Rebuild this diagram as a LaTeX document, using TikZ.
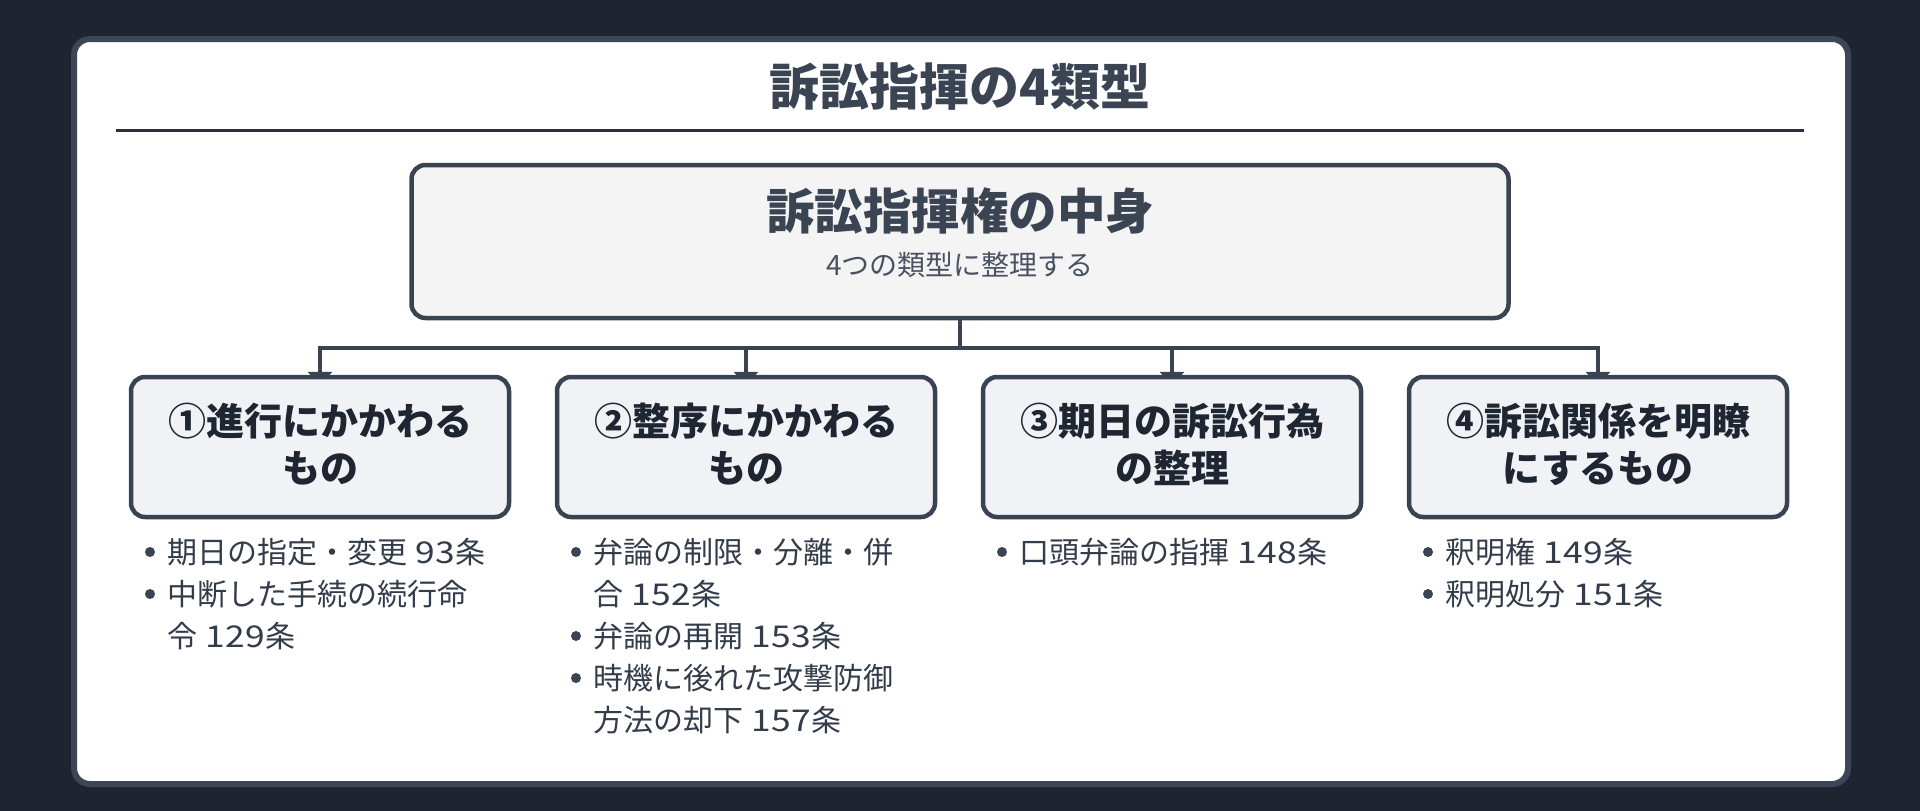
\documentclass[tikz,border=0pt]{standalone}
\usepackage{fontspec}
\setmainfont{Noto Sans CJK JP}
\usetikzlibrary{arrows.meta}
\pgfdeclarelayer{background}
\pgfsetlayers{background,main}
\definecolor{bgc}{HTML}{1F2530}
\definecolor{cardc}{HTML}{3C4657}
\definecolor{rulec}{HTML}{2B313C}
\definecolor{boxc}{HTML}{394352}
\definecolor{topfill}{HTML}{F4F4F5}
\definecolor{catfill}{HTML}{F0F2F6}
\definecolor{titlec}{HTML}{3A4452}
\definecolor{headc}{HTML}{1F2631}
\definecolor{itemc}{HTML}{333C4A}
\definecolor{subc}{HTML}{4A5261}
\newcommand{\artno}[1]{\ \hspace{0.06em}{\addfontfeatures{FakeStretch=1.18}#1}\hspace{0.03em}}
\begin{document}
\begin{tikzpicture}[x=1pt,y=-1pt,
  topbox/.style={draw=boxc, line width=4.5pt, rounded corners=14pt, fill=topfill,
    minimum width=1097pt, minimum height=153pt, inner sep=0pt},
  catbox/.style={draw=boxc, line width=4.5pt, rounded corners=14pt, fill=catfill,
    minimum width=378pt, minimum height=140pt, inner sep=0pt},
  cattext/.style={font=\bfseries\fontsize{38}{47}\selectfont, text=headc, align=center, inner sep=0pt},
  item/.style={font=\fontsize{30}{42}\selectfont, text=itemc, anchor=base west, inner sep=0pt},
  dot/.style={circle, fill=titlec, minimum size=10pt, inner sep=0pt},
  conn/.style={draw=boxc, line width=4.5pt, -{Triangle[width=24pt,length=14pt]}}
]
\useasboundingbox (0,0) rectangle (1920,811);
\begin{pgfonlayer}{background}
  \fill[bgc] (0,0) rectangle (1920,811);
  \draw[cardc, line width=6pt, fill=white, rounded corners=16pt] (74,39) rectangle (1848,784);
\end{pgfonlayer}

% title
\node[font=\bfseries\fontsize{50}{60}\selectfont, text=titlec, inner sep=0pt] (title) at (960,87) {訴訟指揮の4類型};
\coordinate (ruleL) at (116,130);
\coordinate (ruleR) at (1804,130);
\draw[rulec, line width=3pt] (ruleL) -- (ruleR);

% top box
\node[topbox] (top) at (960,241.5) {};
\node[font=\bfseries\fontsize{48.5}{58}\selectfont, text=titlec, inner sep=0pt] (toph) at (960,211) {訴訟指揮権の中身};
\node[font=\fontsize{28}{34}\selectfont, text=subc, inner sep=0pt] (tops) at (960,265) {4つの類型に整理する};

% category boxes
\node[catbox] (c1) at (320,447) {};
\node[catbox] (c2) at (746,447) {};
\node[catbox] (c3) at (1172,447) {};
\node[catbox] (c4) at (1598,447) {};
\node[cattext] (c1l) at (320,444) {①進行にかかわる\\もの};
\node[cattext] (c2l) at (746,444) {②整序にかかわる\\もの};
\node[cattext] (c3l) at (1172,444) {③期日の訴訟行為\\の整理};
\node[cattext] (c4l) at (1598,444) {④訴訟関係を明瞭\\にするもの};

% connectors
\begin{pgfonlayer}{background}
  \coordinate (bus) at (960,348);
  \foreach \c in {c1,c2,c3,c4}{
    \draw[conn] (top.south) -- (bus) -| ([yshift=-11pt]\c.north);
  }
\end{pgfonlayer}

% items column 1
\node[dot] (d11) at (150,552) {};
\node[item] (i11) at (167,563) {期日の指定・変更\artno{93}条};
\node[dot] (d12) at (150,594) {};
\node[item] (i12) at (167,605) {中断した手続の続行命};
\node[item] (i12b) at (167,647) {令\artno{129}条};

% items column 2
\node[dot] (d21) at (576,552) {};
\node[item] (i21) at (593,563) {弁論の制限・分離・併};
\node[item] (i21b) at (593,605) {合\artno{152}条};
\node[dot] (d22) at (576,636) {};
\node[item] (i22) at (593,647) {弁論の再開\artno{153}条};
\node[dot] (d23) at (576,678) {};
\node[item] (i23) at (593,689) {時機に後れた攻撃防御};
\node[item] (i23b) at (593,731) {方法の却下\artno{157}条};

% items column 3
\node[dot] (d31) at (1002,552) {};
\node[item] (i31) at (1019,563) {口頭弁論の指揮\artno{148}条};

% items column 4
\node[dot] (d41) at (1428,552) {};
\node[item] (i41) at (1445,563) {釈明権\artno{149}条};
\node[dot] (d42) at (1428,594) {};
\node[item] (i42) at (1445,605) {釈明処分\artno{151}条};
\end{tikzpicture}
\end{document}
